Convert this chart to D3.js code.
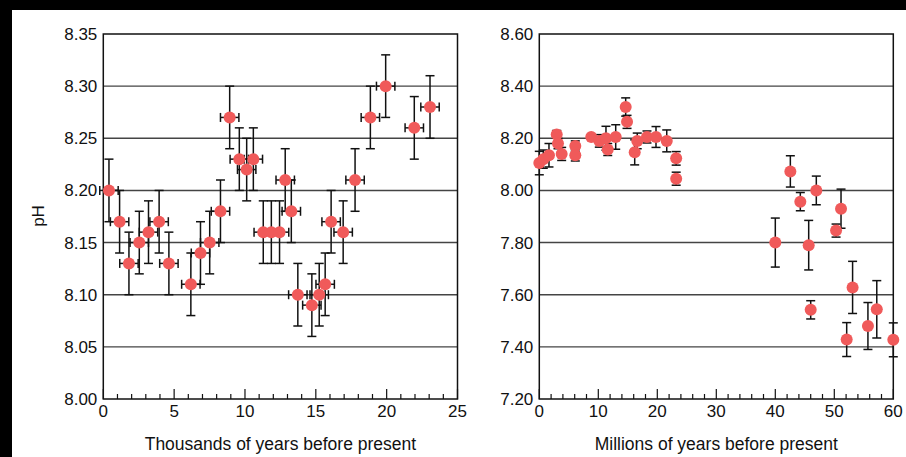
<!DOCTYPE html>
<html>
<head>
<meta charset="utf-8">
<script src="https://cdn.jsdelivr.net/npm/d3@7"></script>
<style>
	body { margin: 0; background: #000; }
	svg { display: block; }
	text { font-family: Arial, 'Liberation Sans', Helvetica, sans-serif; fill: #111; }
</style>
</head>
<body>
<svg></svg>
<script>
const width = 906;
const height = 457;

// left panel: thousands of years
const kyAge = [0.40, 1.15, 1.81, 2.54, 3.19, 3.94, 4.63, 6.18, 6.86, 7.51, 8.27, 8.92, 9.60, 10.12, 10.59, 11.29, 11.86, 12.44, 12.84, 13.27, 13.73, 14.72, 15.24, 15.66, 16.08, 16.93, 17.77, 18.85, 19.93, 21.95, 23.06];
const kyPH = [8.20, 8.17, 8.13, 8.15, 8.16, 8.17, 8.13, 8.11, 8.14, 8.15, 8.18, 8.27, 8.23, 8.22, 8.23, 8.16, 8.16, 8.16, 8.21, 8.18, 8.10, 8.09, 8.10, 8.11, 8.17, 8.16, 8.21, 8.27, 8.30, 8.26, 8.28];
const kyPHErr = [0.03, 0.03, 0.03, 0.03, 0.03, 0.03, 0.03, 0.03, 0.03, 0.03, 0.03, 0.03, 0.03, 0.03, 0.03, 0.03, 0.03, 0.03, 0.03, 0.03, 0.03, 0.03, 0.03, 0.03, 0.03, 0.03, 0.03, 0.03, 0.03, 0.03, 0.03];
const kyAgeErr = [0.65, 0.65, 0.65, 0.65, 0.65, 0.65, 0.65, 0.65, 0.65, 0.65, 0.65, 0.65, 0.65, 0.65, 0.65, 0.65, 0.65, 0.65, 0.65, 0.65, 0.65, 0.65, 0.65, 0.65, 0.65, 0.65, 0.65, 0.65, 0.65, 0.65, 0.65];
const kyXTicks = [0, 5, 10, 15, 20, 25];
const kyYTicks = [8.00, 8.05, 8.10, 8.15, 8.20, 8.25, 8.30, 8.35];

// right panel: millions of years
const maAge = [0.0, 0.68, 1.64, 2.95, 3.17, 3.79, 6.1, 6.1, 8.81, 10.17, 11.3, 11.6, 12.95, 14.64, 14.87, 16.17, 16.6, 18.25, 19.78, 21.6, 23.2, 23.2, 40.0, 42.55, 44.24, 45.66, 46.0, 46.95, 50.3, 51.14, 52.1, 53.1, 55.7, 57.2, 60.0];
const maPH = [8.105, 8.12, 8.135, 8.215, 8.18, 8.14, 8.17, 8.135, 8.205, 8.19, 8.20, 8.157, 8.205, 8.32, 8.263, 8.146, 8.19, 8.205, 8.205, 8.19, 8.123, 8.045, 7.80, 8.073, 7.957, 7.79, 7.542, 8.0, 7.846, 7.93, 7.428, 7.628, 7.48, 7.544, 7.427];
const maPHErr = [0.045, 0.035, 0.045, 0.015, 0.02, 0.025, 0.02, 0.022, 0, 0.024, 0.046, 0.023, 0.047, 0.035, 0.025, 0.048, 0.03, 0.023, 0.04, 0.042, 0.026, 0.025, 0.094, 0.06, 0.035, 0.095, 0.035, 0.055, 0.025, 0.075, 0.065, 0.1, 0.09, 0.11, 0.065];
const maXTicks = [0, 10, 20, 30, 40, 50, 60];
const maYTicks = [7.20, 7.40, 7.60, 7.80, 8.00, 8.20, 8.40, 8.60];

const dotColor = '#f05a5a';
const dotRadius = 6;
const capHalf = 4.5;

const svg = d3.select('svg')
	.attr('width', width)
	.attr('height', height);

// white sheet with black margin at top/left
svg.append('rect')
	.attr('x', 12)
	.attr('y', 10)
	.attr('width', width - 12)
	.attr('height', height - 10)
	.attr('fill', '#fff');

function panel(selection, cfg) {
	const x = d3.scaleLinear().domain(cfg.xDomain).range([cfg.left, cfg.right]);
	const y = d3.scaleLinear().domain(cfg.yDomain).range([cfg.bottom, cfg.top]);

	// gridlines
	selection.selectAll('.grid')
		.data(cfg.yTicks.slice(1, -1))
		.enter().append('line')
			.attr('x1', cfg.left)
			.attr('x2', cfg.right)
			.attr('y1', y)
			.attr('y2', y)
			.attr('stroke', '#444')
			.attr('stroke-width', 1.4);

	// minor + major ticks, pointing inward
	const minor = d3.range(cfg.xDomain[0], cfg.xDomain[1] + 1e-9, cfg.minorStep);
	selection.selectAll('.tick')
		.data(minor)
		.enter().append('line')
			.attr('x1', x)
			.attr('x2', x)
			.attr('y1', cfg.bottom)
			.attr('y2', d => cfg.xTicks.includes(Math.round(d * 1000) / 1000) ? cfg.bottom - 10 : cfg.bottom - 5)
			.attr('stroke', '#111')
			.attr('stroke-width', 1.2);

	// frame
	selection.append('rect')
		.attr('x', cfg.left)
		.attr('y', cfg.top)
		.attr('width', cfg.right - cfg.left)
		.attr('height', cfg.bottom - cfg.top)
		.attr('fill', 'none')
		.attr('stroke', '#111')
		.attr('stroke-width', 1.5);

	// tick labels
	selection.selectAll('.xlab')
		.data(cfg.xTicks)
		.enter().append('text')
			.attr('x', x)
			.attr('y', cfg.bottom + 18)
			.attr('text-anchor', 'middle')
			.attr('font-size', 17)
			.text(d => d);
	selection.selectAll('.ylab')
		.data(cfg.yTicks)
		.enter().append('text')
			.attr('x', cfg.left - 6)
			.attr('y', y)
			.attr('dy', '0.35em')
			.attr('text-anchor', 'end')
			.attr('font-size', 17)
			.text(d3.format('.2f'));

	selection.append('text')
		.attr('x', (cfg.left + cfg.right) / 2)
		.attr('y', 450)
		.attr('text-anchor', 'middle')
		.attr('font-size', 17.5)
		.text(cfg.title);

	const pts = cfg.age.map((a, i) => ({
		a: a, v: cfg.ph[i], ev: cfg.phErr[i], ea: cfg.ageErr ? cfg.ageErr[i] : 0
	}));

	const bars = selection.append('g')
		.attr('stroke', '#111')
		.attr('stroke-width', 1.5)
		.attr('fill', 'none');

	pts.filter(d => d.ev > 0).forEach(d => {
		const cx = x(d.a);
		const y1 = y(d.v + d.ev);
		const y2 = y(d.v - d.ev);
		bars.append('line').attr('x1', cx).attr('x2', cx).attr('y1', y1).attr('y2', y2);
		bars.append('line').attr('x1', cx - capHalf).attr('x2', cx + capHalf).attr('y1', y1).attr('y2', y1);
		bars.append('line').attr('x1', cx - capHalf).attr('x2', cx + capHalf).attr('y1', y2).attr('y2', y2);
	});
	pts.filter(d => d.ea > 0).forEach(d => {
		const cy = y(d.v);
		const x1 = x(d.a - d.ea);
		const x2 = x(d.a + d.ea);
		bars.append('line').attr('x1', x1).attr('x2', x2).attr('y1', cy).attr('y2', cy);
		bars.append('line').attr('x1', x1).attr('x2', x1).attr('y1', cy - capHalf).attr('y2', cy + capHalf);
		bars.append('line').attr('x1', x2).attr('x2', x2).attr('y1', cy - capHalf).attr('y2', cy + capHalf);
	});

	selection.selectAll('.dot')
		.data(pts)
		.enter().append('circle')
			.attr('cx', d => x(d.a))
			.attr('cy', d => y(d.v))
			.attr('r', dotRadius)
			.attr('fill', dotColor);
}

svg.append('g').call(panel, {
	xDomain: [0, 25], yDomain: [8.0, 8.35],
	left: 103.3, right: 457.5, top: 34, bottom: 399,
	xTicks: kyXTicks, yTicks: kyYTicks, minorStep: 1,
	age: kyAge, ph: kyPH, phErr: kyPHErr, ageErr: kyAgeErr,
	title: 'Thousands of years before present'
});

svg.append('g').call(panel, {
	xDomain: [0, 60], yDomain: [7.2, 8.6],
	left: 539.3, right: 893.3, top: 34, bottom: 399,
	xTicks: maXTicks, yTicks: maYTicks, minorStep: 2,
	age: maAge, ph: maPH, phErr: maPHErr, ageErr: null,
	title: 'Millions of years before present'
});

svg.append('text')
	.attr('transform', 'translate(44, 216) rotate(-90)')
	.attr('text-anchor', 'middle')
	.attr('font-size', 17)
	.text('pH');
</script>
</body>
</html>
